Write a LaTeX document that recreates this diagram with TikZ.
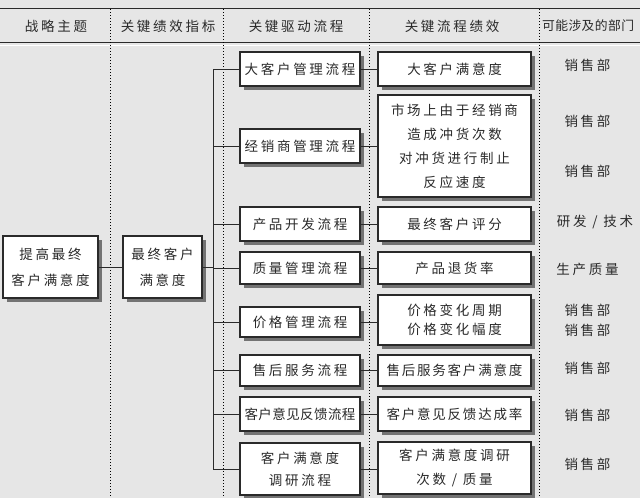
\documentclass[tikz,border=0pt]{standalone}
\usepackage{fontspec}
\newfontfamily\cjk[LetterSpace=20]{Noto Sans CJK SC}
\newfontfamily\cjkn[LetterSpace=3]{Noto Sans CJK SC}
\newfontfamily\cjkm[LetterSpace=13]{Noto Sans CJK SC}
\usetikzlibrary{shadows}
\definecolor{bg}{HTML}{E6E6E6}
\definecolor{ink}{HTML}{2A2A2A}
\tikzset{
  box/.style={draw=ink, line width=1.2pt, fill=white, inner sep=0pt, align=center,
    drop shadow={shadow xshift=4pt, shadow yshift=-4pt, fill=black!55, opacity=1},
    text=ink, font=\cjk\fontsize{13.5}{24}\selectfont},
  conn/.style={draw=ink, line width=1pt},
  colsep/.style={draw=black, dotted, line width=1pt},
  hdr/.style={text=ink, font=\cjk\fontsize{13.5}{16}\selectfont},
  dept/.style={text=ink, align=center, font=\cjk\fontsize{13.5}{20}\selectfont},
  pbox/.style={box, minimum width=120pt},
  kbox/.style={box, minimum width=153pt}
}
\begin{document}
\begin{tikzpicture}[x=1pt,y=-1pt]
\useasboundingbox (0,0) rectangle (640,498);
\clip (0,0) rectangle (640,498);
\fill[bg] (0,0) rectangle (640,498);
% header rules
\draw[ink, line width=1.8pt] (0,8.5) -- (640,8.5);
\draw[ink, line width=1.4pt] (0,42.5) -- (640,42.5);
\draw[white, line width=0.8pt] (0,45) -- (640,45);
% column separators
\draw[colsep] (110,9) -- (110,498);
\draw[colsep] (223,9) -- (223,498);
\draw[colsep] (369,9) -- (369,498);
\draw[colsep] (539,9) -- (539,498);
% header texts
\node[hdr] (h1) at (56,26) {战略主题};
\node[hdr] (h2) at (168,26) {关键绩效指标};
\node[hdr] (h3) at (296,26) {关键驱动流程};
\node[hdr] (h4) at (452,26) {关键流程绩效};
\node[text=ink, font=\cjkn\fontsize{12.8}{16}\selectfont, anchor=west, inner sep=0pt] (h5) at (542,26) {可能涉及的部门};
% left boxes
\node[box, minimum width=95pt, minimum height=62pt, font=\cjk\fontsize{13.5}{26}\selectfont] (s) at (50.5,267) {提高最终\\客户满意度};
\node[box, minimum width=79pt, minimum height=62pt, font=\cjk\fontsize{13.5}{26}\selectfont] (k0) at (162.5,267) {最终客户\\满意度};
% process boxes
\node[pbox, minimum height=34pt] (p1) at (300,69) {大客户管理流程};
\node[pbox, minimum height=34pt] (p2) at (300,146) {经销商管理流程};
\node[pbox, minimum height=34pt] (p3) at (300,224) {产品开发流程};
\node[pbox, minimum height=32pt] (p4) at (300,268) {质量管理流程};
\node[pbox, minimum height=30pt] (p5) at (300,322) {价格管理流程};
\node[pbox, minimum height=31pt] (p6) at (300,370.5) {售后服务流程};
\node[pbox, minimum height=34pt, font=\cjkn\fontsize{13.5}{24}\selectfont] (p7) at (300,414) {客户意见反馈流程};
\node[pbox, minimum height=52pt, font=\cjk\fontsize{13.5}{22}\selectfont] (p8) at (300,469) {客户满意度\\调研流程};
% KPI boxes
\node[kbox, minimum height=34pt] (k1) at (454.5,69) {大客户满意度};
\node[kbox, minimum height=102pt] (k2) at (454.5,146) {市场上由于经销商\\造成冲货次数\\对冲货进行制止\\反应速度};
\node[kbox, minimum height=34pt] (k3) at (454.5,224) {最终客户评分};
\node[kbox, minimum height=32pt] (k4) at (454.5,268) {产品退货率};
\node[kbox, minimum height=50pt, font=\cjk\fontsize{13.5}{19}\selectfont] (k5) at (454.5,320) {价格变化周期\\价格变化幅度};
\node[kbox, minimum height=31pt, font=\cjkm\fontsize{13.5}{24}\selectfont] (k6) at (454.5,370.5) {售后服务客户满意度};
\node[kbox, minimum height=34pt, font=\cjkm\fontsize{13.5}{24}\selectfont] (k7) at (454.5,414) {客户意见反馈达成率};
\node[kbox, minimum height=52pt, font=\cjk\fontsize{13.5}{24}\selectfont] (k8) at (454.5,468) {客户满意度调研\\次数 / 质量};
% connectors
\coordinate (bus) at (213,0);
\draw[conn] (s.east) -- (k0.west);
\draw[conn] (k0.east) -- (bus |- k0.east);
\draw[conn] (bus |- p1.west) -- (bus |- p8.west);
\foreach \i in {1,...,8}{
  \draw[conn] (bus |- p\i.west) -- (p\i.west);
  \draw[conn] (p\i.east) -- (p\i.east -| k\i.west);
}
% departments
\node[dept] (d1) at (587.5,65) {销售部};
\node[dept] (d2) at (587.5,121) {销售部};
\node[dept] (d3) at (587.5,171) {销售部};
\node[dept] (d4) at (595,222) {研发 / 技术};
\node[dept] (d5) at (587.5,269) {生产质量};
\node[dept] (d6) at (587.5,320) {销售部\\销售部};
\node[dept] (d7) at (587.5,368) {销售部};
\node[dept] (d8) at (587.5,415) {销售部};
\node[dept] (d9) at (587.5,464) {销售部};
\end{tikzpicture}
\end{document}
